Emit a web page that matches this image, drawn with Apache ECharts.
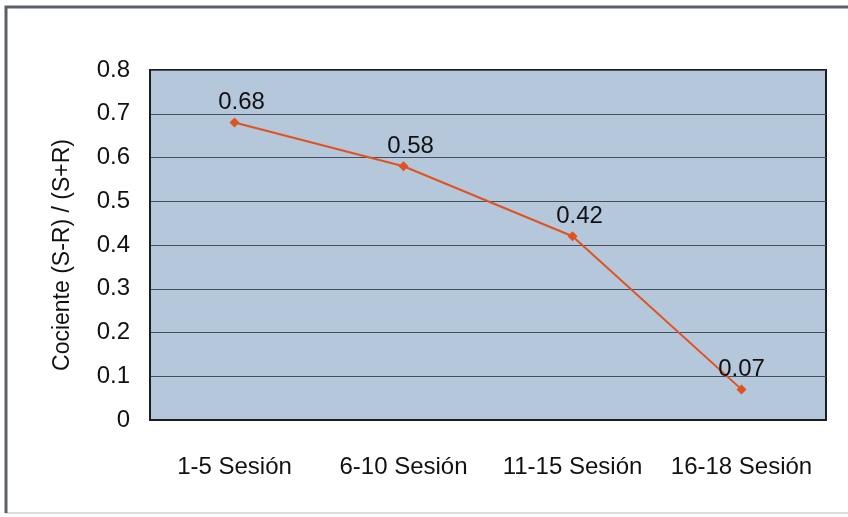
<!DOCTYPE html>
<html>
<head>
<meta charset="utf-8">
<script src="https://cdn.jsdelivr.net/npm/echarts@6/dist/echarts.min.js"></script>
<style>
  html, body { margin: 0; padding: 0; background: #ffffff; }
  #chart { width: 848px; height: 517px; }
</style>
</head>
<body>
<div id="chart"></div>
<script>
// Session blocks and the quotient (S-R)/(S+R) for each
const sessions = ['1-5 Sesión', '6-10 Sesión', '11-15 Sesión', '16-18 Sesión'];
const quotient = [0.68, 0.58, 0.42, 0.07];
const yTicks = [0, 0.1, 0.2, 0.3, 0.4, 0.5, 0.6, 0.7, 0.8];

const chart = echarts.init(document.getElementById('chart'), null, { renderer: 'canvas' });

const font = '"Liberation Sans", Arial, sans-serif';
// value labels sit a little to the right of their markers, except the last one
const labelShiftX = i => (i < quotient.length - 1 ? 7 : 0);

chart.setOption({
  animation: false,
  backgroundColor: '#ffffff',
  graphic: [
    {
      type: 'rect',
      shape: { x: 6, y: 7, width: 860, height: 506 },
      style: { fill: 'none', stroke: '#d0d2d4', lineWidth: 1.5 },
      z: -2
    },
    {
      type: 'polyline',
      shape: { points: [[6, 513], [6, 7], [860, 7]] },
      style: { fill: 'none', stroke: '#5c6168', lineWidth: 3 },
      z: -1
    }
  ],
  grid: {
    left: 150, right: 22, top: 70, bottom: 97,
    show: true,
    backgroundColor: '#b5c7da',
    borderColor: '#1b1d22',
    borderWidth: 2
  },
  xAxis: {
    type: 'category',
    data: sessions,
    boundaryGap: true,
    axisLine: { show: true, lineStyle: { color: '#1b1d22', width: 2 } },
    axisTick: { show: false },
    axisLabel: {
      interval: 0,
      hideOverlap: false,
      color: '#111111', fontFamily: font, fontSize: 24, margin: 35
    }
  },
  yAxis: {
    type: 'value',
    min: 0, max: 0.8, interval: 0.1,
    name: 'Cociente (S-R) / (S+R)',
    nameLocation: 'middle',
    nameGap: 76,
    nameTextStyle: { color: '#111111', fontFamily: font, fontSize: 23, padding: [0, 20, 0, 0] },
    axisLine: { show: true, lineStyle: { color: '#1b1d22', width: 2 } },
    axisTick: { show: false },
    splitLine: { show: true, lineStyle: { color: '#46505c', width: 1 } },
    axisLabel: {
      color: '#111111', fontFamily: font, fontSize: 24, margin: 20,
      formatter: v => {
        const t = yTicks.find(k => Math.abs(k - v) < 1e-9);
        return t === 0 ? '0' : String(+(t ?? v).toFixed(1));
      }
    }
  },
  series: [
    {
      type: 'line',
      data: quotient.map((v, i) => ({
        value: v,
        label: { offset: [labelShiftX(i), 0] }
      })),
      symbol: 'diamond',
      symbolSize: 10,
      lineStyle: { color: '#e0521f', width: 2 },
      itemStyle: { color: '#e0521f' },
      label: {
        show: true,
        position: 'top',
        distance: 3,
        color: '#111111',
        fontFamily: font,
        fontSize: 24,
        formatter: p => p.value.toFixed(2)
      }
    }
  ]
});
</script>
</body>
</html>
